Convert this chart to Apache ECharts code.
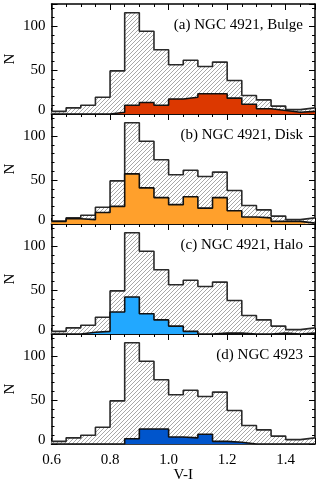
<!DOCTYPE html>
<html><head><meta charset="utf-8">
<script src="https://cdn.jsdelivr.net/npm/echarts@6/dist/echarts.min.js"></script>
<style>html,body{margin:0;padding:0;background:#fff}#c{width:319px;height:495px}</style>
</head><body><div id="c"></div>
<script>
// V-I bin edges (18 bins of 0.05)
const binEdges = [0.60,0.65,0.70,0.75,0.80,0.85,0.90,0.95,1.00,1.05,1.10,1.15,1.20,1.25,1.30,1.35,1.40,1.45,1.50];
// all clusters (hatched grey histogram)
const allClusters = [3,7,10,19,49,115,94,73,56,61,54,59,38,21,16,9,5,7];
// subsamples
const bulge   = [0,0,0,0,2,10,13,10,17,19,23,23,18,11,6,4,2,3];
const disk    = [3,6,5,13,20,57,41,30,22,31,18,30,15,8,7,3,3,1];
const halo    = [0,0,2,3,25,42,23,16,9,3,0,1,1,0,0,1,0,1];
const ngc4923 = [0,0,0,0,0,6,17,17,8,7,11,3,2,0,0,0,0,0];
const subsets = [bulge, disk, halo, ngc4923];
const panelTitles = ['(a) NGC 4921, Bulge','(b) NGC 4921, Disk','(c) NGC 4921, Halo','(d) NGC 4923'];
const panelColors = ['#dc3800','#ffa02c','#22a8ff','#0055cc'];
const xLabel = 'V-I';
const yLabel = 'N';

const FONT = 'Liberation Serif';
const pc = document.createElement('canvas'); pc.width = 4; pc.height = 4;
const g = pc.getContext('2d');
g.fillStyle = '#ffffff'; g.fillRect(0,0,4,4);
g.strokeStyle = '#a8a8a8'; g.lineWidth = 1;
g.beginPath();
g.moveTo(-1,5); g.lineTo(5,-1);
g.moveTo(-1,1); g.lineTo(1,-1);
g.moveTo(3,5); g.lineTo(5,3);
g.stroke();

function stepData(vals){
  const pts = vals.map((v,i)=>[binEdges[i], v]);
  pts.push([binEdges[binEdges.length-1], vals[vals.length-1]]);
  return pts;
}

const top0 = 4, ph = 110;
const grids = [], xAxes = [], yAxes = [], series = [], titles = [];
const lineC = '#000';
for (let p = 0; p < 4; p++) {
  grids.push({left: 51.5, right: 4, top: top0 + p*ph, height: ph, containLabel:false, outerBoundsMode:'none'});
  const xi = xAxes.length;
  const isBottom = p === 3;
  const xBase = {type:'value', gridIndex:p, min:0.6, max:1.5, splitLine:{show:false}};
  xAxes.push(Object.assign({}, xBase, {position:'bottom', interval:0.2,
    axisLine:{show:true, onZero:false, lineStyle:{color:lineC, width:1.5}},
    axisTick:{show:true, inside:true, length:6, lineStyle:{color:lineC, width:1}},
    axisLabel:{show:isBottom, margin:9, color:'#000', fontFamily:FONT, fontSize:15,
      formatter: v => (Math.abs(v-1.5)<1e-6 ? '' : v.toFixed(1))},
    name: isBottom ? xLabel : '', nameLocation:'middle', nameGap:24, nameMoveOverlap:false,
    nameTextStyle:{color:'#000', fontFamily:FONT, fontSize:15}}));
  xAxes.push(Object.assign({}, xBase, {position:'bottom', interval:0.05,
    axisLine:{show:false, onZero:false}, axisLabel:{show:false},
    axisTick:{show:true, inside:true, length:3, lineStyle:{color:lineC, width:1}}}));
  xAxes.push(Object.assign({}, xBase, {position:'top', interval:0.2,
    axisLine:{show:true, onZero:false, lineStyle:{color:lineC, width:1.5}}, axisLabel:{show:false},
    axisTick:{show:true, inside:true, length:6, lineStyle:{color:lineC, width:1}}}));
  xAxes.push(Object.assign({}, xBase, {position:'top', interval:0.05,
    axisLine:{show:false, onZero:false}, axisLabel:{show:false},
    axisTick:{show:true, inside:true, length:3, lineStyle:{color:lineC, width:1}}}));
  const yi = yAxes.length;
  const yBase = {type:'value', gridIndex:p, min:0, max:125, splitLine:{show:false}};
  yAxes.push(Object.assign({}, yBase, {position:'left', interval:50,
    axisLine:{show:true, onZero:false, lineStyle:{color:lineC, width:1.5}},
    axisTick:{show:true, inside:true, length:6, lineStyle:{color:lineC, width:1}},
    axisLabel:{show:true, margin:6, color:'#000', fontFamily:FONT, fontSize:15,
      formatter: v => (v % 50 === 0 ? (v === 0 ? '{z|0}' : String(v)) : ''),
      rich:{z:{fontFamily:FONT, fontSize:15, color:'#000', padding:[0,0,7,0]}}},
    name: yLabel, nameLocation:'middle', nameGap:34, nameRotate:90, nameMoveOverlap:false,
    nameTextStyle:{color:'#000', fontFamily:FONT, fontSize:15}}));
  yAxes.push(Object.assign({}, yBase, {position:'left', interval:10,
    axisLine:{show:false, onZero:false}, axisLabel:{show:false},
    axisTick:{show:true, inside:true, length:3, lineStyle:{color:lineC, width:1}}}));
  yAxes.push(Object.assign({}, yBase, {position:'right', interval:50,
    axisLine:{show:true, onZero:false, lineStyle:{color:lineC, width:1.5}}, axisLabel:{show:false},
    axisTick:{show:true, inside:true, length:6, lineStyle:{color:lineC, width:1}}}));
  yAxes.push(Object.assign({}, yBase, {position:'right', interval:10,
    axisLine:{show:false, onZero:false}, axisLabel:{show:false},
    axisTick:{show:true, inside:true, length:3, lineStyle:{color:lineC, width:1}}}));

  series.push({type:'line', xAxisIndex:xi, yAxisIndex:yi, step:'end', symbol:'none',
    data: stepData(allClusters), z:2, silent:true,
    lineStyle:{color:'#2a2a2a', width:1.6},
    areaStyle:{origin:'start', opacity:1, color:{image:pc, repeat:'repeat'}}});
  series.push({type:'line', xAxisIndex:xi, yAxisIndex:yi, step:'end', symbol:'none',
    data: stepData(subsets[p]), z:3, silent:true,
    lineStyle:{color:'#111', width:1.6},
    areaStyle:{origin:'start', opacity:1, color:panelColors[p]}});
  titles.push({text: panelTitles[p], right: 11, top: top0 + p*ph + 9,
    textStyle:{fontFamily:FONT, fontSize:15, fontWeight:'normal', color:'#000'}});
}

const chart = echarts.init(document.getElementById('c'), null, {renderer:'canvas'});
chart.setOption({animation:false, backgroundColor:'#fff', title:titles, grid:grids,
  xAxis:xAxes, yAxis:yAxes, series:series});
</script></body></html>
